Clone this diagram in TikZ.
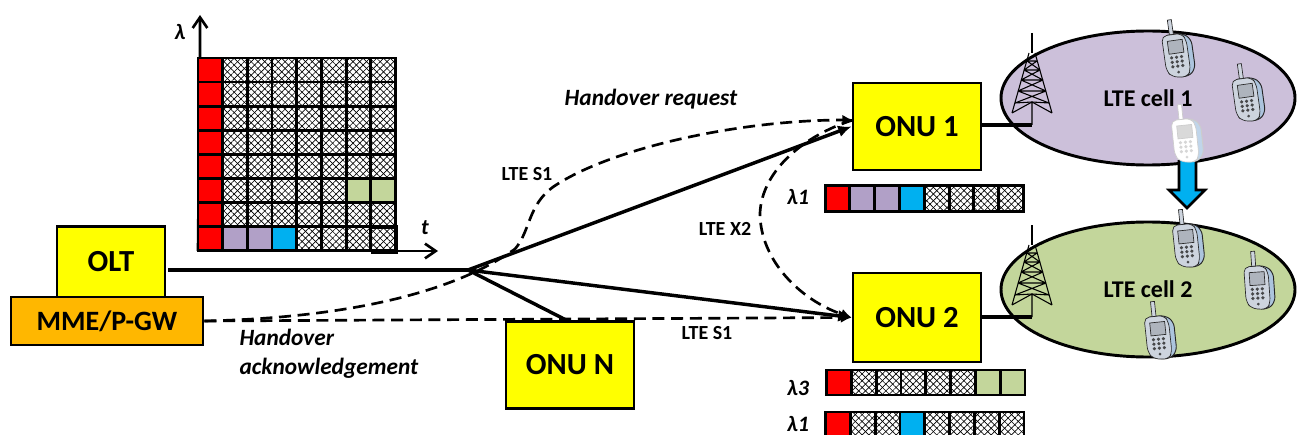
\documentclass[tikz,border=0pt]{standalone}
\usepackage{fontspec}
\setmainfont{Carlito}
\usetikzlibrary{patterns.meta,arrows.meta,shapes.geometric}

\definecolor{onuyellow}{RGB}{255,255,0}
\definecolor{slotred}{RGB}{255,0,0}
\definecolor{lilac}{RGB}{177,160,199}
\definecolor{celllilac}{RGB}{204,192,218}
\definecolor{skyblue}{RGB}{0,176,240}
\definecolor{palegreen}{RGB}{195,214,155}
\definecolor{mmeorange}{RGB}{255,183,0}
\definecolor{phonegrey}{RGB}{205,212,222}
\definecolor{phoneedge}{RGB}{150,185,220}

\tikzset{every picture/.style={line width=0.75pt}}
\tikzset{
  boxnode/.style={draw,line width=2.2pt,fill=onuyellow,font=\fontsize{23}{23}\bfseries\selectfont,inner sep=0pt},
  cellnode/.style={ellipse,draw,line width=2.2pt,minimum width=294*0.75pt,font=\fontsize{18}{18}\bfseries\selectfont,inner sep=0pt},
  hatchcell/.style={draw,line width=2pt,minimum width=24.6*0.75pt,minimum height=24*0.75pt,inner sep=0pt,
    pattern={Lines[angle=45,distance=3.6pt,line width=.5pt]},
    postaction={pattern={Lines[angle=-45,distance=3.6pt,line width=.5pt]}}},
  colorcell/.style={draw,line width=2pt,minimum width=24.6*0.75pt,minimum height=24*0.75pt,inner sep=0pt,fill=#1},
  link/.style={line width=2.6pt},
  dashlink/.style={line width=2pt,dash pattern=on 9pt off 5pt},
  ltelabel/.style={font=\fontsize{15}{18}\bfseries\selectfont,inner sep=0.75pt},
  itlabel/.style={font=\fontsize{17.5}{21.75}\bfseries\itshape\selectfont,inner sep=0.75pt,align=left},
  lambdalabel/.style={font=\fontsize{16.5}{18}\bfseries\itshape\selectfont,inner sep=0.75pt},
  phone/.pic={
    \draw[line width=0.5pt,fill=#1] (-6,-18) rectangle (-2,-34);
    \draw[line width=0.7pt,fill=phoneedge!60!#1,rounded corners=4pt] (-13,-19) -- (7,-19) -- (15,-12) -- (15,18) -- (7,25) -- (-10,22) -- cycle;
    \draw[line width=0.5pt,fill=#1,rounded corners=4pt] (-14,-19) -- (6,-19) -- (10,-12) -- (10,19) -- (6,25) -- (-9,23) -- (-14,16) -- cycle;
    \draw[line width=0.5pt,fill=#1!85!black] (-9,-13) rectangle (6,0);
    \foreach \px in {-7,-2,3}
      \foreach \py in {4,8.5,13}
        \fill[opacity=.8] (\px,\py) circle (1.8);
    \fill[opacity=.8] (-2,19) circle (1.5);
  },
  tower/.pic={
    \draw[line width=0.8pt] (-20,80) -- (-3,20) (20,80) -- (3,20) (-20,80) -- (0,69) -- (20,80) (0,69) -- (0,92);
    \draw[line width=0.8pt] (-17,70) -- (14,58) (17,70) -- (-14,58) (-14,58) -- (11,47) (14,58) -- (-11,47)
      (-11,47) -- (8,37) (11,47) -- (-8,37) (-8,37) -- (5,28) (8,37) -- (-5,28)
      (-17,70) -- (0,69) -- (17,70) (-14,58) -- (14,58) (-11,47) -- (11,47) (-8,37) -- (8,37) (-5,28) -- (5,28);
    \draw[line width=2pt] (0,0) -- (0,20);
  }
}

\begin{document}
\begin{tikzpicture}[x=0.75pt,y=0.75pt,yscale=-1,xscale=1]
\useasboundingbox (0,0) rectangle (1304,435);

% axes of the grid
\coordinate (gridorigin) at (198,251);
\coordinate (lambdatip) at (200,15);
\coordinate (timetip) at (438,251);
\draw [line width=2pt,-{Straight Barb[length=8pt,width=11pt]}] (gridorigin) -- (200,58) -- (lambdatip);
\draw [line width=2pt,-{Straight Barb[length=8pt,width=11pt]}] (gridorigin) -- (timetip);

% grid of wavelengths and slots
\foreach \r in {0,...,7} {
  \node [colorcell=slotred] (red\r) at (210.3,70+24.1*\r) {};
  \foreach \c in {1,...,7}
    \node [hatchcell] (cell\r\c) at (210.3+24.7*\c,70+24.1*\r) {};
}
\node [colorcell=lilac] (cell71p) at (235,238.7) {};
\node [colorcell=lilac] (cell72p) at (259.7,238.7) {};
\node [colorcell=skyblue] (cell73p) at (284.4,238.7) {};
\node [colorcell=palegreen] (cell56g) at (358.5,190.5) {};
\node [colorcell=palegreen] (cell57g) at (383.2,190.5) {};
\draw [line width=2.8pt] (371,227) -- (396,227) -- (396,252) -- (371,252);

% nodes
\node [boxnode,minimum width=108*0.75pt,minimum height=71*0.75pt] (olt) at (111,262) {OLT};
\node [boxnode,fill=mmeorange,minimum width=192*0.75pt,minimum height=48*0.75pt,font=\fontsize{21}{21}\bfseries\selectfont] (mme) at (107,321) {MME/P-GW};
\node [boxnode,minimum width=128*0.75pt,minimum height=87*0.75pt] (onu1) at (917,126.5) {ONU 1};
\node [boxnode,minimum width=128*0.75pt,minimum height=89*0.75pt] (onu2) at (917,317.5) {ONU 2};
\node [boxnode,minimum width=128*0.75pt,minimum height=87*0.75pt] (onun) at (570,365) {ONU N};

\node [cellnode,fill=celllilac,minimum height=134*0.75pt] (cell1) at (1148,98) {LTE cell 1};
\node [cellnode,fill=palegreen,minimum height=135*0.75pt] (cell2) at (1148,289.5) {LTE cell 2};

% fibre
\coordinate (oltport) at (168,270);
\coordinate (split) at (468,270);
\coordinate (onunport) at (568,321);
\draw [link] (oltport) -- (split);
\draw [link,-{Latex[length=10pt,width=9pt]}] (split) -- (onu1.west);
\draw [link,-{Latex[length=10pt,width=9pt]}] (split) -- (onu2.west);
\draw [link] (split) -- (onunport);

% towers
\coordinate (towerone) at (1032,125);
\coordinate (towertwo) at (1032,317);
\draw (1032,33) pic [yscale=-1] {tower};
\draw (1032,225) pic [yscale=-1] {tower};
\draw [line width=2.4pt] (onu1.east |- towerone) -- (towerone);
\draw [line width=2.4pt] (onu2.east |- towertwo) -- (towertwo);

% signalling
\coordinate (onu1top) at (853,120);
\draw [dashlink,-{Latex[length=8pt,width=8pt]}] (mme.east) .. controls (340,318) and (450,295) .. (515,249) .. controls (530,232) and (528,205) .. (553,187) .. controls (610,148) and (740,120) .. (onu1top);
\draw [dashlink,-{Latex[length=8pt,width=8pt]}] (mme.east) -- (onu2.west);
\draw [dashlink,-{Latex[length=8pt,width=8pt]}] (onu1top) .. controls (805,135) and (762,170) .. (760,213) .. controls (760,260) and (800,300) .. (onu2.west);

% moving arrow
\draw [line width=2pt,fill=skyblue] (1179,160) -- (1179,190) -- (1169,190) -- (1187,208) -- (1205,190) -- (1196,190) -- (1196,160);

% phones
\draw (1178,53) pic [rotate=8,yscale=-1,color=black!85] {phone=phonegrey};
\draw (1248,97) pic [rotate=8,yscale=-1,color=black!85] {phone=phonegrey};
\draw (1187,138) pic [rotate=6,yscale=-1,color=black!20] {phone=white};
\draw (1188,243) pic [rotate=6,yscale=-1,color=black!85] {phone=phonegrey};
\draw (1259,285) pic [rotate=4,yscale=-1,color=black!85] {phone=phonegrey};
\draw (1160,335) pic [rotate=6,yscale=-1,color=black!85] {phone=phonegrey};

% bars
\foreach \c in {0,...,7} {
  \node [hatchcell,minimum height=26*0.75pt] (barone\c) at (837.5+24.8*\c,198.5) {};
  \node [hatchcell,minimum height=25*0.75pt] (barthree\c) at (839+24.8*\c,382.5) {};
  \node [hatchcell,minimum height=25*0.75pt] (barlast\c) at (838+24.8*\c,424.5) {};
}
\node [colorcell=slotred,minimum height=26*0.75pt] (baronered) at (837.5,198.5) {};
\node [colorcell=lilac,minimum height=26*0.75pt] (baronea) at (862.3,198.5) {};
\node [colorcell=lilac,minimum height=26*0.75pt] (baroneb) at (887.1,198.5) {};
\node [colorcell=skyblue,minimum height=26*0.75pt] (baronec) at (911.9,198.5) {};
\node [colorcell=slotred,minimum height=25*0.75pt] (barthreered) at (839,382.5) {};
\node [colorcell=palegreen,minimum height=25*0.75pt] (barthreea) at (987.8,382.5) {};
\node [colorcell=palegreen,minimum height=25*0.75pt] (barthreeb) at (1012.6,382.5) {};
\node [colorcell=slotred,minimum height=25*0.75pt] (barlastred) at (838,424.5) {};
\node [colorcell=skyblue,minimum height=25*0.75pt] (barlasta) at (912.4,424.5) {};

% Text Node
\node [lambdalabel] (lambdatext) at (180,32) {λ};
\node [lambdalabel] (timetext) at (425,228) {t};
\node [itlabel] (request) at (651,99) {Handover request};
\node [itlabel,anchor=north west] (ack) at (238,328) {Handover\\acknowledgement};
\node [ltelabel] (s1upper) at (527,174) {LTE S1};
\node [ltelabel] (x2) at (725,229) {LTE X2};
\node [ltelabel] (s1lower) at (707,333) {LTE S1};
\node [lambdalabel] (barlabelone) at (798,197) {λ1};
\node [lambdalabel] (barlabelthree) at (798,388) {λ3};
\node [lambdalabel] (barlabellast) at (798,424) {λ1};

\end{tikzpicture}
\end{document}
